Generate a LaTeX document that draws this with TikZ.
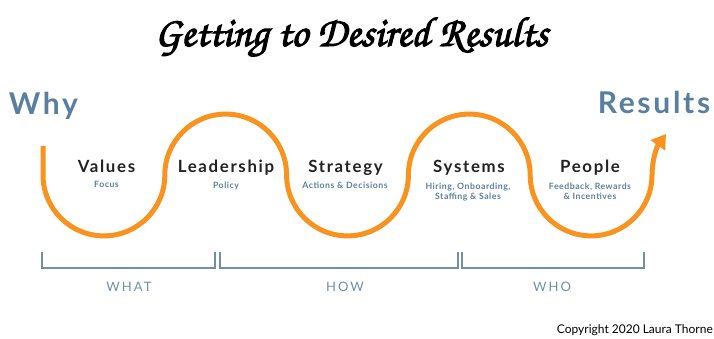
\documentclass[tikz,border=0pt]{standalone}
\usepackage{fontspec}
\usetikzlibrary{arrows.meta}
\setmainfont{Lato}
\newfontfamily\titlef{texgyrechorus-mediumitalic.otf}[FakeBold=2.5]
\newfontfamily\bigf{Lato}[LetterSpace=9]
\newfontfamily\headf{Lato}[LetterSpace=10]
\newfontfamily\subf{Lato}[LetterSpace=6]
\newfontfamily\capf{Lato}[LetterSpace=16]
\newfontfamily\copyf{Lato}
\definecolor{orng}{HTML}{F7931E}
\definecolor{bluegrey}{HTML}{5A7F9E}
\definecolor{brk}{HTML}{6F8FA8}
\definecolor{dark}{HTML}{222222}
\tikzset{
  curve/.style={draw=orng, line width=5pt, -{Triangle[length=14pt,width=17pt]}},
  bracket/.style={draw=brk, line width=1.8pt},
  bigword/.style={anchor=base, text=bluegrey, font=\fontsize{30}{30}\selectfont\bfseries\bigf, inner sep=0pt},
  head/.style={anchor=base, text=dark, font=\fontsize{16.8}{16.8}\selectfont\bfseries\headf, inner sep=0pt},
  sub/.style={anchor=base, text=bluegrey, font=\fontsize{8.7}{10}\selectfont\bfseries\subf, inner sep=0pt, align=center},
  grp/.style={anchor=base, text=brk, font=\fontsize{13}{13}\selectfont\capf, inner sep=0pt},
}
\begin{document}
\begin{tikzpicture}[x=1pt,y=1pt]
\useasboundingbox (0,0) rectangle (714,339);
% title
\node[anchor=base, inner sep=0pt] (title) at (351.5,293) {\resizebox{393pt}{!}{\titlef\fontsize{40}{40}\selectfont Getting to Desired Results}};
% why / results
\node[bigword] (why) at (43.5,224) {Why};
\node[bigword] (results) at (654,225) {Results};
% curve
\coordinate (start) at (43,193);
\coordinate (tip) at (666,205);
\draw[curve] (start) -- (43,164) arc(180:360:60.9) arc(180:0:60.9) arc(180:360:60.9) arc(180:0:60.9) arc(180:360:60.9) .. controls (652,177) and (656,191) .. (tip);
% headings
\node[head] (values) at (106.5,166) {Values};
\node[head] (leadership) at (226,166) {Leadership};
\node[head] (strategy) at (345.5,166) {Strategy};
\node[head] (systems) at (469,166) {Systems};
\node[head] (people) at (590,166) {People};
% sub texts
\node[sub] (focus) at (106.5,151) {Focus};
\node[sub] (policy) at (226,150) {Policy};
\node[sub] (actions) at (345,150) {Actions \& Decisions};
\node[sub] (hiring) at (468,139.5) {Hiring, Onboarding,\\Staffing \& Sales};
\node[sub] (feedback) at (590,139.5) {Feedback, Rewards\\\& Incentives};
% brackets
\draw[bracket] (42,87) -- (42,71) -- (215,71) -- (215,87);
\draw[bracket] (220,87) -- (220,71) -- (458,71) -- (458,87);
\draw[bracket] (462,87) -- (462,71) -- (644,71) -- (644,87);
\node[grp] (what) at (129,47) {WHAT};
\node[grp] (how) at (345,47) {HOW};
\node[grp] (who) at (552,47) {WHO};
% copyright
\node[anchor=base east, inner sep=0pt, text=black, font=\fontsize{12}{12}\selectfont\copyf] (copy) at (713,5) {Copyright 2020 Laura Thorne};
\end{tikzpicture}
\end{document}
